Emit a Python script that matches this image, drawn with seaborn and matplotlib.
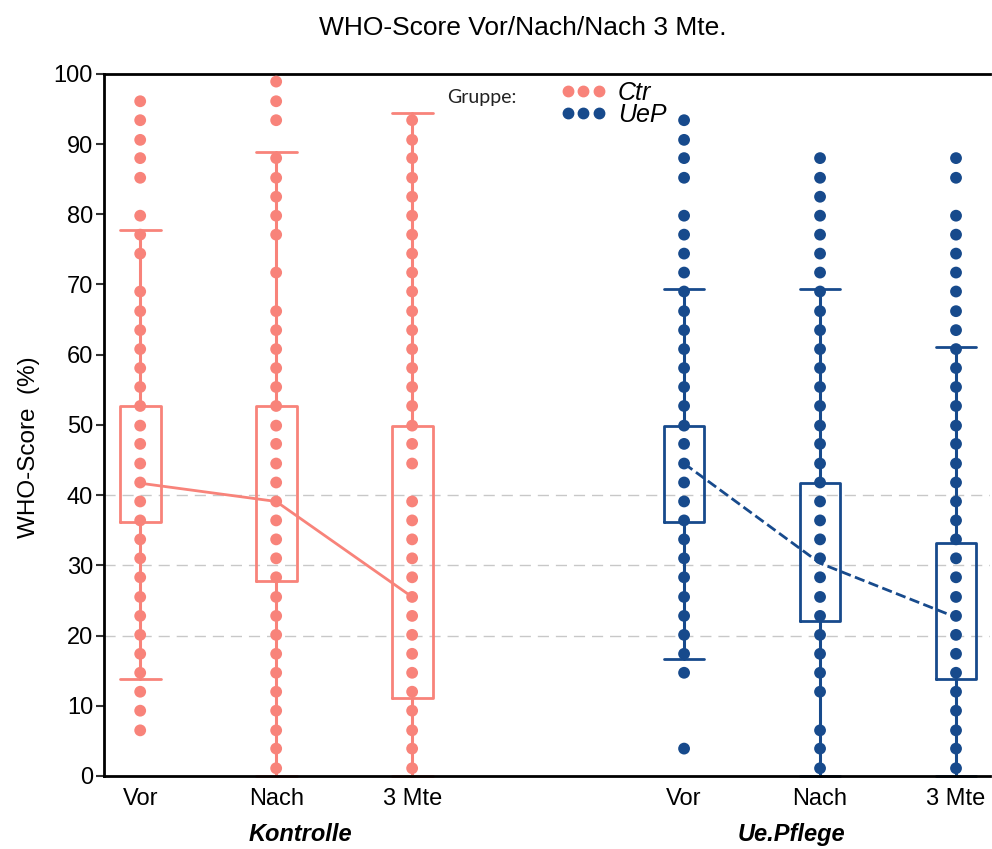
import numpy as np
import pandas as pd
import seaborn as sns
import matplotlib.pyplot as plt
import matplotlib.transforms as mtransforms
from matplotlib.lines import Line2D

# Werte (WHO-Score in %), je Gruppe und Zeitpunkt
ctr_vor = [96.1, 93.4, 90.6, 88.0, 85.2, 79.8, 77.1, 74.4, 69.0, 66.2, 63.5, 60.8, 58.1, 55.4, 52.7, 49.9,
           47.3, 44.5, 41.8, 39.1, 36.4, 33.7, 31.0, 28.3, 25.5, 22.8, 20.1, 17.4, 14.7, 12.0, 9.3, 6.5]
ctr_nach = [98.9, 96.1, 93.4, 88.0, 85.2, 82.5, 79.8, 77.1, 71.7, 66.2, 63.5, 60.8, 58.1, 55.4, 52.7, 49.9,
            47.3, 44.5, 41.8, 39.1, 36.4, 33.7, 31.0, 28.3, 25.5, 22.8, 20.1, 17.4, 14.7, 12.0, 9.3, 6.5, 3.9, 1.1]
ctr_3mte = [93.4, 90.6, 88.0, 85.2, 82.5, 79.8, 77.1, 74.4, 71.7, 69.0, 66.2, 63.5, 60.8, 58.1, 55.4, 52.7,
            49.9, 47.3, 44.5, 39.1, 36.4, 33.7, 31.0, 28.3, 25.5, 22.8, 20.1, 17.4, 14.7, 12.0, 9.3, 6.5, 3.9, 1.1]
uep_vor = [93.4, 90.6, 88.0, 85.2, 79.8, 77.1, 74.4, 71.7, 69.0, 66.2, 63.5, 60.8, 58.1, 55.4, 52.7, 49.9,
           47.3, 44.5, 41.8, 39.1, 36.4, 33.7, 31.0, 28.3, 25.5, 22.8, 20.1, 17.4, 14.7, 3.9]
uep_nach = [88.0, 85.2, 82.5, 79.8, 77.1, 74.4, 71.7, 69.0, 66.2, 63.5, 60.8, 58.1, 55.4, 52.7, 49.9, 47.3,
            44.5, 41.8, 39.1, 36.4, 33.7, 31.0, 28.3, 25.5, 22.8, 20.1, 17.4, 14.7, 12.0, 6.5, 3.9, 1.1]
uep_3mte = [88.0, 85.2, 79.8, 77.1, 74.4, 71.7, 69.0, 66.2, 63.5, 60.8, 58.1, 55.4, 52.7, 49.9, 47.3, 44.5,
            41.8, 39.1, 36.4, 33.7, 31.0, 28.3, 25.5, 22.8, 20.1, 17.4, 14.7, 12.0, 9.3, 6.5, 3.9, 1.1]

# Boxplot-Kennwerte, Reihenfolge Vor / Nach / 3 Mte
ctr_q1 = [36.2, 27.8, 11.1]
ctr_q3 = [52.7, 52.7, 49.9]
ctr_wlo = [13.8, 0.0, 0.0]
ctr_whi = [77.7, 88.9, 94.4]
ctr_mean = [41.7, 39.1, 25.5]
uep_q1 = [36.2, 22.1, 13.8]
uep_q3 = [49.9, 41.7, 33.2]
uep_wlo = [16.6, 0.0, 0.0]
uep_whi = [69.4, 69.4, 61.1]
uep_mean = [44.5, 30.3, 22.6]

zeiten = ["Vor", "Nach", "3 Mte"]
gruppen = ["Ctr", "UeP"]
gruppen_namen = ["Kontrolle", "Ue.Pflege"]
farben = {"Ctr": "#F8837A", "UeP": "#174A8C"}
grid_levels = [20, 30, 40]

#%%
# Daten in langes Format bringen
werte = {"Ctr": [ctr_vor, ctr_nach, ctr_3mte], "UeP": [uep_vor, uep_nach, uep_3mte]}
rows = []
for g in gruppen:
    for z, vals in zip(zeiten, werte[g]):
        for v in vals:
            rows.append({"Gruppe": g, "Zeit": g + "_" + z, "Wert": v})
df = pd.DataFrame(rows)

means = {"Ctr": ctr_mean, "UeP": uep_mean}
df_mean = pd.DataFrame([{"Gruppe": g, "Zeit": g + "_" + z, "Wert": m}
                        for g in gruppen for z, m in zip(zeiten, means[g])])

# leere Kategorie als Abstand zwischen den Gruppen
order = ["Ctr_" + z for z in zeiten] + [" "] + ["UeP_" + z for z in zeiten]

#%%
sns.set_style("white")
plt.rcParams['font.family'] = ['Liberation Sans', 'DejaVu Sans']
plt.rcParams['text.color'] = 'black'
plt.rcParams['axes.labelcolor'] = 'black'
plt.rcParams['xtick.color'] = 'black'
plt.rcParams['ytick.color'] = 'black'

fig = plt.figure(figsize=(9.92, 8.49), dpi=100)
ax = fig.add_axes([0.105, 0.086, 0.893, 0.827])

for y in grid_levels:
    ax.axhline(y, color="#C8C8C8", lw=1, ls=(0, (8, 5)), zorder=0)

# Boxen ohne Median, Whisker mit Caps
stats = {"Ctr": (ctr_q1, ctr_q3, ctr_wlo, ctr_whi, ctr_mean), "UeP": (uep_q1, uep_q3, uep_wlo, uep_whi, uep_mean)}
for g in gruppen:
    q1, q3, wlo, whi, mn = stats[g]
    bx = [{"q1": a, "q3": b, "whislo": c, "whishi": d, "med": m, "fliers": []}
          for a, b, c, d, m in zip(q1, q3, wlo, whi, mn)]
    pos = [order.index(g + "_" + z) for z in zeiten]
    col = farben[g]
    art = ax.bxp(bx, positions=pos, widths=0.3, showfliers=False, patch_artist=False,
                 boxprops=dict(color=col, lw=2), whiskerprops=dict(color=col, lw=2.2),
                 capprops=dict(color=col, lw=2), medianprops=dict(lw=0), capwidths=0.3,
                 manage_ticks=False)
    for c in art["caps"]:
        c.set_clip_on(False)
    for w in art["whiskers"]:
        w.set_clip_on(False)

sns.stripplot(data=df, x="Zeit", y="Wert", hue="Gruppe", order=order, hue_order=gruppen,
              palette=farben, jitter=False, size=8.5, linewidth=0, legend=False, ax=ax, zorder=3)

sns.pointplot(data=df_mean, x="Zeit", y="Wert", hue="Gruppe", order=order, hue_order=gruppen,
              palette=farben, linestyles=["-", "--"], markers=["o", "o"], markersize=0,
              linewidth=2, errorbar=None, legend=False, ax=ax, zorder=4)

ax.set_xlim(-0.265, 6.25)
ax.set_ylim(0, 100)
ax.set_yticks(np.arange(0, 101, 10))
ax.set_xticks(range(len(order)))
ax.set_xticklabels(zeiten + [""] + zeiten)
ax.set_xlabel("")
ax.tick_params(axis="x", length=0, pad=9, labelsize=17)
ax.tick_params(axis="y", left=True, length=6, width=1.5, pad=2, labelsize=17, color="#333333")

for s in ["left", "bottom", "top"]:
    ax.spines[s].set_linewidth(2)
    ax.spines[s].set_color("black")
ax.spines["right"].set_visible(False)

ax.set_ylabel("WHO-Score  (%)", fontsize=17.5)
ax.yaxis.set_label_coords(-0.072, 0.469)

# Gruppenbeschriftung unter den Zeitpunkten
trans = mtransforms.blended_transform_factory(ax.transData, ax.transAxes)
for xpos, name in zip([1.18, 4.79], gruppen_namen):
    ax.text(xpos, -0.084, name, transform=trans, ha="center", va="center",
            fontsize=17, weight="bold", style="italic")

fig.text(0.527, 0.967, "WHO-Score Vor/Nach/Nach 3 Mte.", ha="center", va="center", fontsize=19)

# Legende
fig.text(447 / 992, 1 - 97 / 849, "Gruppe:", ha="left", va="center", fontsize=14,
         family=["Lato", "DejaVu Sans"], color="#222222")
handles = [Line2D([], [], marker="o", ls="", color=farben[g], markersize=7.5) for g in gruppen]
ax.legend(handles, gruppen, numpoints=3, handlelength=1.87, handletextpad=0.45, labelspacing=-0.08,
          frameon=False, prop=dict(style="italic", size=18), loc="upper left",
          bbox_to_anchor=(560 / 992, 1 - 81 / 849), bbox_transform=fig.transFigure,
          borderpad=0, borderaxespad=0)

fig.savefig("out.png", dpi=100)
